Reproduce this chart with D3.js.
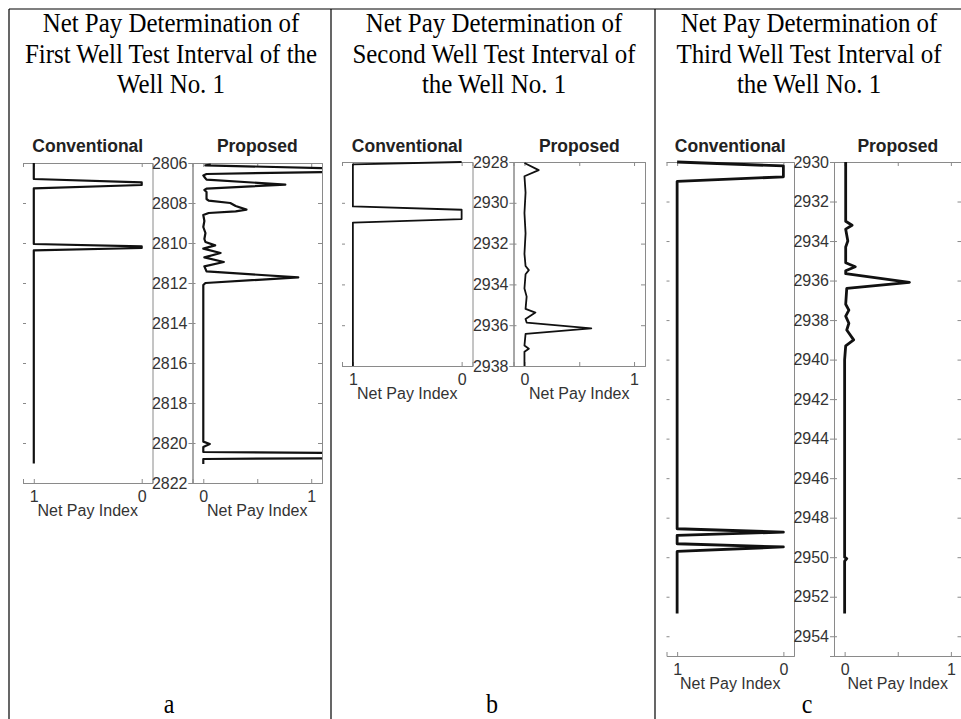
<!DOCTYPE html>
<html>
<head>
<meta charset="utf-8">
<script src="https://cdn.jsdelivr.net/npm/d3@7"></script>
<style>
  body { margin: 0; background: #fff; }
  svg { display: block; }
  .axis path, .axis line { stroke: #8a8a8a; }
  .axis text { fill: #333; font-family: "Liberation Sans", Arial, sans-serif; font-size: 16px; }
</style>
</head>
<body>
<svg id="chart" width="961" height="719"></svg>
<script>
// panel titles
const titlesA = ['Net Pay Determination of', 'First Well Test Interval of the', 'Well No. 1'];
const titlesB = ['Net Pay Determination of', 'Second Well Test Interval of', 'the Well No. 1'];
const titlesC = ['Net Pay Determination of', 'Third Well Test Interval of', 'the Well No. 1'];
const panelLetters = ['a', 'b', 'c'];

// depth ranges and tick labels
const depthTicksA = [2806, 2808, 2810, 2812, 2814, 2816, 2818, 2820, 2822];
const depthTicksB = [2928, 2930, 2932, 2934, 2936, 2938];
const depthTicksC = [2930, 2932, 2934, 2936, 2938, 2940, 2942, 2944, 2946, 2948, 2950, 2952, 2954];
const depthRangeA = [2806, 2822];
const depthRangeB = [2928, 2938];
const depthRangeC = [2930, 2955];
const convTicks = [1, 0];
const propTicks = [0, 0.5, 1];

// first interval, conventional
const convDepthA = [2806.0, 2806.8, 2806.97, 2807.1, 2807.27, 2810.05, 2810.17, 2810.25, 2810.37, 2821.03];
const convNpiA = [1, 1, 0, 0, 1, 1, 0, 0, 1, 1];
// first interval, proposed
const propDepthA = [2806.08, 2806.12, 2806.3, 2806.42, 2806.55, 2806.62, 2806.7, 2806.83, 2807.08, 2807.28,
  2807.35, 2807.45, 2807.8, 2807.88, 2808.0, 2808.15, 2808.33, 2808.42, 2808.5, 2808.6,
  2808.9, 2809.2, 2809.5, 2809.8, 2809.95, 2810.12, 2810.28, 2810.5, 2810.72, 2810.95,
  2811.17, 2811.42, 2811.72, 2812.0, 2812.1, 2819.93, 2820.05, 2820.2, 2820.45, 2820.52,
  2820.75, 2820.8, 2821.05];
const propNpiA = [0.07, 0.02, 1.5, 1.5, 0.03, 0.0, 0.01, 0.03, 0.76, 0.03,
  0.01, 0.03, 0.03, 0.05, 0.25, 0.3, 0.40, 0.3, 0.05, 0.0,
  0.01, 0.0, 0.02, 0.01, 0.02, 0.11, 0.0, 0.16, 0.01, 0.19,
  0.01, 0.03, 0.88, 0.02, 0.0, 0.0, 0.06, 0.0, 0.0, 1.6,
  1.6, 0.0, 0.0];

// second interval
const convDepthB = [2928.0, 2928.12, 2930.18, 2930.34, 2930.8, 2930.97, 2938.0];
const convNpiB = [0, 1, 1, 0, 0, 1, 1];
const propDepthB = [2928.05, 2928.4, 2928.7, 2929.5, 2930.5, 2931.5, 2932.5, 2933.1, 2933.3, 2933.5,
  2934.2, 2934.6, 2935.2, 2935.38, 2935.7, 2935.87, 2936.16, 2936.43, 2937.0, 2937.15,
  2937.3, 2938.0];
const propNpiB = [0.0, 0.13, 0.0, 0.01, 0.0, 0.01, 0.0, 0.01, 0.04, 0.01,
  0.0, 0.02, 0.01, 0.1, 0.01, 0.02, 0.61, 0.01, 0.0, 0.04,
  0.0, 0.0];

// third interval
const convDepthC = [2930.0, 2930.2, 2930.75, 2930.98, 2948.56, 2948.73, 2948.9, 2949.32, 2949.48, 2949.71, 2952.85];
const convNpiC = [1, 0, 0, 1, 1, 0, 1, 1, 0, 1, 1];
const propDepthC = [2930.0, 2931.5, 2933.0, 2933.2, 2933.4, 2934.0, 2934.3, 2935.1, 2935.3, 2935.5,
  2935.65, 2936.09, 2936.4, 2937.2, 2937.5, 2937.8, 2938.16, 2938.5, 2939.0, 2939.3,
  2940.0, 2950.0, 2950.07, 2950.2, 2952.85];
const propNpiC = [0.01, 0.01, 0.01, 0.07, 0.01, 0.03, 0.01, 0.01, 0.1, 0.01,
  0.01, 0.61, 0.02, 0.01, 0.04, 0.01, 0.04, 0.02, 0.085, 0.01,
  0.0, 0.0, 0.02, 0.0, 0.0];

const svg = d3.select('#chart');
const W = 961, H = 719;
svg.append('rect').attr('width', W).attr('height', H).attr('fill', '#fff');

// table frame
const cellEdges = [9, 331, 655, W];
const frame = svg.append('g').attr('stroke', '#000').attr('stroke-width', 1.2);
frame.append('line').attr('x1', 9).attr('x2', W).attr('y1', 9).attr('y2', 9);
cellEdges.slice(0, 3).forEach(x => {
  frame.append('line').attr('x1', x).attr('x2', x).attr('y1', 9).attr('y2', H);
});

const panels = [
  { titles: titlesA, range: depthRangeA, ticks: depthTicksA,
    conv: [convDepthA, convNpiA], prop: [propDepthA, propNpiA],
    convX: [23, 152.5], propX: [192.5, 322], top: 163, bottom: 483, lw: 2.2 },
  { titles: titlesB, range: depthRangeB, ticks: depthTicksB,
    conv: [convDepthB, convNpiB], prop: [propDepthB, propNpiB],
    convX: [342, 472.5], propX: [513.5, 645], top: 162, bottom: 366, lw: 1.8 },
  { titles: titlesC, range: depthRangeC, ticks: depthTicksC,
    conv: [convDepthC, convNpiC], prop: [propDepthC, propNpiC],
    convX: [666.5, 794], propX: [834, 961.5], top: 162, bottom: 656, lw: 2.8 }
];

panels.forEach((p, i) => {
  const cx = (cellEdges[i] + cellEdges[i + 1]) / 2;

  // caption, narrow like the scanned Times face
  svg.append('g').selectAll('text')
    .data(p.titles)
    .join('text')
    .attr('transform', (d, j) => `translate(${cx + 1},${32 + j * 30.5}) scale(0.89,1)`)
    .attr('text-anchor', 'middle')
    .style('font-family', '"Liberation Serif", "Times New Roman", serif')
    .style('font-size', '28px')
    .attr('fill', '#000')
    .text(d => d);

  svg.append('text')
    .attr('transform', `translate(${cx - 1},713) scale(0.89,1)`)
    .attr('text-anchor', 'middle')
    .style('font-family', '"Liberation Serif", "Times New Roman", serif')
    .style('font-size', '27px')
    .text(panelLetters[i]);

  const y = d3.scaleLinear().domain(p.range).range([p.top, p.bottom]);
  const xConv = d3.scaleLinear().domain([1.1, -0.1]).range(p.convX);
  const xProp = d3.scaleLinear().domain([-0.1, 1.1]).range(p.propX);

  drawTrack(svg, 'Conventional', p.conv, xConv, y, p, convTicks, true, i);
  drawTrack(svg, 'Proposed', p.prop, xProp, y, p, propTicks, false, i);

  // depth labels between the two tracks
  svg.append('g')
    .attr('class', 'axis')
    .attr('transform', `translate(${p.propX[0]},0)`)
    .call(d3.axisLeft(y).tickValues(p.ticks).tickSize(4).tickPadding(1).tickFormat(d3.format('d')));
});

function drawTrack(root, name, series, x, y, p, ticks, isConv, idx) {
  const [x0, x1] = x.range();
  const left = Math.min(x0, x1), right = Math.max(x0, x1);
  const g = root.append('g');

  g.append('text')
    .attr('x', (left + right) / 2)
    .attr('y', 152)
    .attr('text-anchor', 'middle')
    .style('font-family', '"Liberation Sans", Arial, sans-serif')
    .style('font-weight', 'bold')
    .style('font-size', '17.5px')
    .attr('fill', '#222')
    .text(name);

  // top ticks
  g.append('g').attr('class', 'axis')
    .attr('transform', `translate(0,${p.top})`)
    .call(d3.axisTop(x).tickValues(ticks).tickSize(-4).tickFormat(''));

  // bottom axis with labels
  g.append('g').attr('class', 'axis')
    .attr('transform', `translate(0,${p.bottom})`)
    .call(d3.axisBottom(x).tickValues(ticks).tickSize(-4).tickPadding(8)
      .tickFormat(d => (d === 0.5 ? '' : d3.format('d')(d))));

  // side ticks
  const leftAxis = g.append('g').attr('class', 'axis')
    .attr('transform', `translate(${left},0)`)
    .call(d3.axisLeft(y).tickValues(p.ticks).tickSize(-3).tickFormat(''));
  if (isConv) leftAxis.select('.domain').remove();

  g.append('g').attr('class', 'axis')
    .attr('transform', `translate(${right},0)`)
    .call(d3.axisRight(y).tickValues(p.ticks).tickSize(isConv ? 0 : -4).tickFormat(''));

  const clipId = `clip-${idx}-${isConv ? 'c' : 'p'}`;
  g.append('clipPath').attr('id', clipId)
    .append('rect')
    .attr('x', left).attr('y', p.top - 2)
    .attr('width', right - left).attr('height', p.bottom - p.top + 4);

  const [depths, vals] = series;
  const pts = depths.map((d, k) => [vals[k], d]);
  const line = d3.line().x(d => x(d[0])).y(d => y(d[1]));

  g.append('path')
    .datum(pts)
    .attr('clip-path', `url(#${clipId})`)
    .attr('fill', 'none')
    .attr('stroke', '#111')
    .attr('stroke-width', p.lw)
    .attr('stroke-linejoin', 'round')
    .attr('d', line);

  g.append('text')
    .attr('x', (left + right) / 2)
    .attr('y', p.bottom + 33)
    .attr('text-anchor', 'middle')
    .style('font-family', '"Liberation Sans", Arial, sans-serif')
    .style('font-size', '16px')
    .attr('fill', '#333')
    .text('Net Pay Index');
}
</script>
</body>
</html>
